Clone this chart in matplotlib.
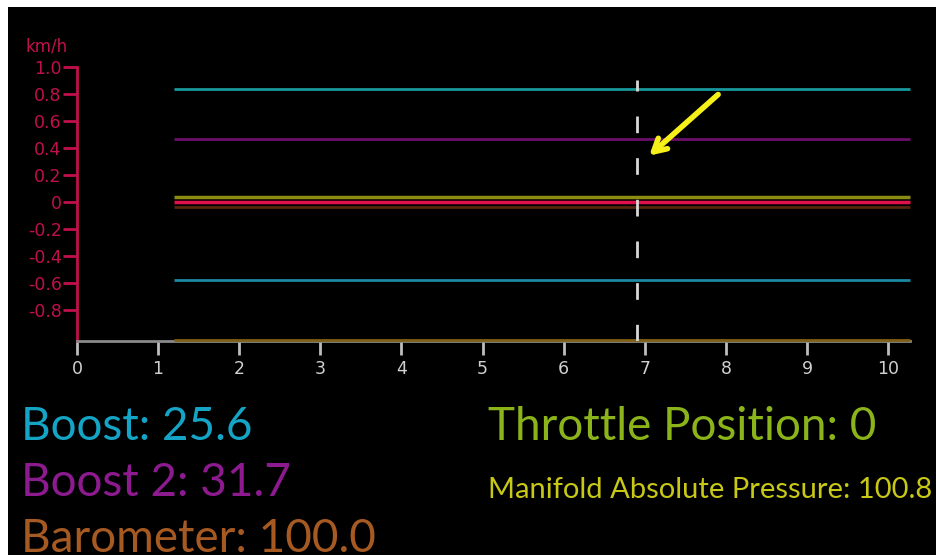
import matplotlib
matplotlib.use("Agg")
import matplotlib.pyplot as plt
from matplotlib.patches import Rectangle

# Trace levels (flat lines over the logged interval)
trace_levels = [0.84, 0.47, 0.035, 0.0, -0.035, -0.58, -1.02]
trace_colors = ["#17999c", "#6a1068", "#8c8c12", "#e0104c", "#55280c", "#1a8aa2", "#806012"]
trace_widths = [2.0, 2.0, 2.5, 2.5, 2.0, 2.0, 2.0]
t_start, t_end = 1.19, 10.27
cursor_t = 6.9

x_ticks = list(range(0, 11))
y_ticks = [1.0, 0.8, 0.6, 0.4, 0.2, 0.0, -0.2, -0.4, -0.6, -0.8]
y_tick_labels = ["1.0", "0.8", "0.6", "0.4", "0.2", "0", "-0.2", "-0.4", "-0.6", "-0.8"]

readout_names = ["Boost", "Boost 2", "Barometer", "Throttle Position", "Manifold Absolute Pressure"]
readout_values = ["25.6", "31.7", "100.0", "0", "100.8"]
readout_colors = ["#14a4c6", "#8e1a90", "#a65a22", "#8ab41a", "#c8c816"]

W, H = 937, 555
fig = plt.figure(figsize=(W / 100, H / 100), dpi=100, facecolor="white")
fig.patches.append(Rectangle((8 / W, 0), 1 - 8 / W, 1 - 7 / H, transform=fig.transFigure,
                             facecolor="black", edgecolor="none", zorder=-10))

left, right = 77 / W, 910 / W
bottom, top = (H - 341) / H, (H - 67) / H
ax = fig.add_axes([left, bottom, right - left, top - bottom])
ax.set_zorder(1)
ax.set_facecolor("black")
ax.set_xlim(0, 10.27)
ax.set_ylim(-1.03, 1.0)

crimson = "#c0104c"
for s in ["top", "right"]:
    ax.spines[s].set_visible(False)
ax.spines["left"].set_color(crimson)
ax.spines["left"].set_linewidth(2)
ax.spines["bottom"].set_color("#8a8a8a")
ax.spines["bottom"].set_linewidth(2)

ax.set_yticks(y_ticks)
ax.set_yticklabels(y_tick_labels)
ax.tick_params(axis="y", colors=crimson, length=10, width=2, pad=1, labelsize=12.5)
ax.set_xticks(x_ticks)
ax.tick_params(axis="x", colors="#bdbdbd", length=10, width=2, pad=4, labelsize=12.5)
for lab in ax.get_yticklabels():
    lab.set_color(crimson)
for lab in ax.get_xticklabels():
    lab.set_color("#d0d0d0")

ax.text(-0.64, 1.155, "km/h", color=crimson, fontsize=12, ha="left", va="center",
        transform=ax.transData, clip_on=False)

for lvl, c, lw in zip(trace_levels, trace_colors, trace_widths):
    ax.plot([t_start, t_end], [lvl, lvl], color=c, lw=lw, solid_capstyle="butt",
            clip_on=False, zorder=3)

ax.plot([cursor_t, cursor_t], [-1.03, 0.9], color="#d8d8d8", lw=2,
        dashes=(6, 9), zorder=3)

ax.annotate("", xy=(7.03, 0.33), xytext=(7.93, 0.81),
            arrowprops=dict(arrowstyle="->,head_length=0.9,head_width=0.5",
                            color="#f5f01a", lw=4), zorder=4)

font = "Lato"
def ftext(px, py, s, color, size):
    fig.text(px / W, 1 - py / H, s, color=color, fontsize=size, family=font,
             ha="left", va="baseline")

ftext(21, 440, f"{readout_names[0]}: {readout_values[0]}", readout_colors[0], 33)
ftext(21, 496, f"{readout_names[1]}: {readout_values[1]}", readout_colors[1], 33)
ftext(21, 552, f"{readout_names[2]}: {readout_values[2]}", readout_colors[2], 33)
ftext(488, 440, f"{readout_names[3]}: {readout_values[3]}", readout_colors[3], 33)
ftext(488, 498, f"{readout_names[4]}: {readout_values[4]}", readout_colors[4], 21)

fig.savefig("out.png", dpi=100, facecolor="white")
